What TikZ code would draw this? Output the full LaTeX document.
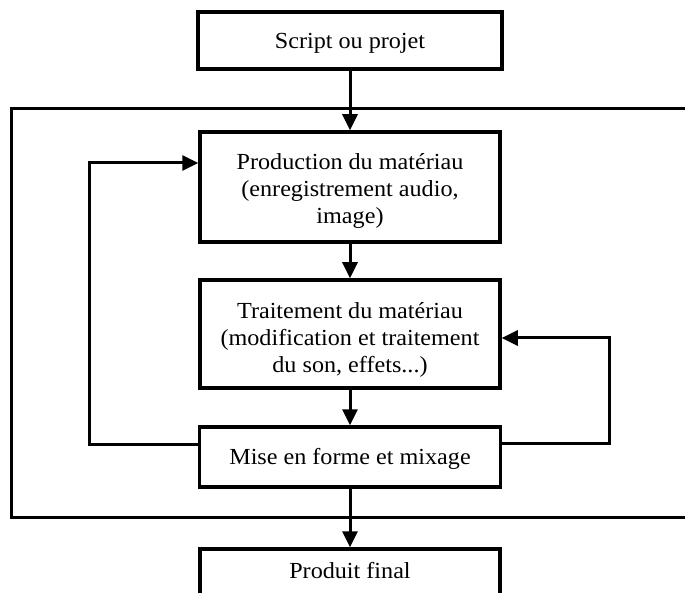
\documentclass[tikz,border=0pt]{standalone}
\usepackage{fontspec}
\setmainfont[FakeStretch=1.05]{Liberation Serif}
\usetikzlibrary{arrows.meta}
\begin{document}
\begin{tikzpicture}[x=1pt,y=-1pt,
  box/.style={draw=black,line width=3.5pt,fill=white,inner sep=0pt},
  txt/.style={align=center,inner sep=0pt,font=\fontsize{23}{27}\selectfont},
  arr/.style={line width=3pt,-{Triangle[length=16pt,width=15pt]}},
  frameline/.style={line width=3pt}]
\useasboundingbox (0,0) rectangle (685,593);
\clip (0,0) rectangle (685,593);
\draw[frameline] (690,109) -- (11,109) -- (11,517) -- (690,517);
\node[box,minimum width=304pt,minimum height=57pt] (script) at (350,40.5) {};
\node[box,minimum width=300pt,minimum height=110pt] (prod) at (350,187) {};
\node[box,minimum width=300pt,minimum height=108pt] (trait) at (350,334) {};
\node[box,minimum width=301pt,minimum height=60pt] (mise) at (350,457) {};
\node[box,minimum width=300pt,minimum height=80pt] (final) at (350,589) {};
\node[txt] (scripttxt) at ([yshift=-3pt]script.center) {Script ou projet};
\node[txt] (prodtxt) at ([yshift=-4pt]prod.center) {Production du matériau\\(enregistrement audio,\\image)};
\node[txt] (traittxt) at ([yshift=-6pt]trait.center) {Traitement du matériau\\(modification et traitement\\du son, effets...)};
\node[txt] (misetxt) at ([yshift=-2pt]mise.center) {Mise en forme et mixage};
\node[txt] (finaltxt) at (350,571) {Produit final};
\draw[arr] (script) -- (prod);
\draw[arr] (prod) -- (trait);
\draw[arr] (trait) -- (mise);
\draw[arr] (mise) -- (final);
\draw[arr] ([yshift=13pt]mise.west) -- ++(-108,0) |- ([yshift=24pt]prod.west);
\draw[arr] ([yshift=14pt]mise.east) -- ++(107,0) |- ([yshift=-4pt]trait.east);
\end{tikzpicture}
\end{document}
